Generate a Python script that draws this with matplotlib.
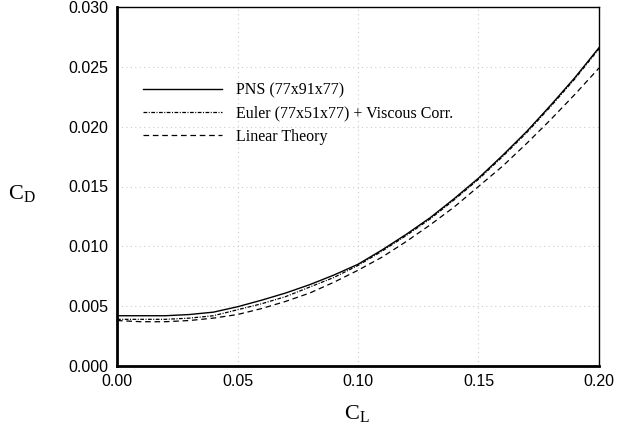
import matplotlib.pyplot as plt
import numpy as np

cl = [0.00, 0.01, 0.02, 0.03, 0.04, 0.05, 0.06, 0.07, 0.08, 0.09, 0.10,
      0.11, 0.12, 0.13, 0.14, 0.15, 0.16, 0.17, 0.18, 0.19, 0.20]
cd_pns = [0.0042, 0.0042, 0.0042, 0.0043, 0.0045, 0.00495, 0.0055, 0.0061, 0.0068, 0.0076, 0.0085,
          0.0097, 0.0110, 0.0124, 0.0140, 0.0157, 0.0176, 0.0196, 0.0218, 0.0241, 0.0266]
cd_euler = [0.0039, 0.0039, 0.0039, 0.0040, 0.0042, 0.0047, 0.0052, 0.0058, 0.0066, 0.0074, 0.0084,
            0.0096, 0.0109, 0.0123, 0.0139, 0.0156, 0.0175, 0.0195, 0.0217, 0.0240, 0.0265]
cd_lin = [0.0038, 0.0037, 0.0037, 0.0038, 0.0040, 0.0043, 0.0048, 0.0054, 0.0061, 0.0070, 0.0080,
          0.0091, 0.0104, 0.0118, 0.0133, 0.0150, 0.0167, 0.0186, 0.0206, 0.0227, 0.0249]
labels = ["PNS (77x91x77)", "Euler (77x51x77) + Viscous Corr.", "Linear Theory"]

xticks = [0.00, 0.05, 0.10, 0.15, 0.20]
yticks = [0.000, 0.005, 0.010, 0.015, 0.020, 0.025, 0.030]

fig = plt.figure(figsize=(6.29, 4.34), dpi=100)
ax = fig.add_axes([117 / 629, 1 - 366 / 434, 482 / 629, 359 / 434])

ax.plot(cl, cd_pns, color="black", lw=1.0, ls="-", label=labels[0])
ax.plot(cl, cd_euler, color="black", lw=0.9, ls=(0, (3, 1.2, 0.8, 1.2)), label=labels[1])
ax.plot(cl, cd_lin, color="black", lw=0.9, ls=(0, (4.5, 3)), label=labels[2])

ax.set_xlim(0, 0.2)
ax.set_ylim(0, 0.03)
ax.set_xticks(xticks)
ax.set_yticks(yticks)
ax.set_xticklabels(["%.2f" % v for v in xticks], fontsize=11.5, family="Liberation Sans")
ax.set_yticklabels(["%.3f" % v for v in yticks], fontsize=11.5, family="Liberation Sans")
ax.tick_params(axis="x", length=0, pad=6)
ax.tick_params(axis="y", length=0, pad=6.5)
ax.grid(True, color="#cccccc", ls=(0, (1, 3)), lw=0.8)

for s in ["left", "bottom"]:
    ax.spines[s].set_linewidth(2.0)
for s in ["top", "right"]:
    ax.spines[s].set_linewidth(1.0)

leg = ax.legend(loc="upper left", bbox_to_anchor=(0.054, 0.79), frameon=False,
                handlelength=4.95, handletextpad=0.85, labelspacing=0.45,
                borderaxespad=0, borderpad=0,
                prop={"family": "Liberation Serif", "size": 11.5})

fig.text(22 / 629, 1 - 193 / 434, r"$\mathregular{C_D}$", fontsize=16,
         family="Liberation Serif", ha="center", va="center")
fig.text(357 / 629, 1 - 413 / 434, r"$\mathregular{C_L}$", fontsize=16,
         family="Liberation Serif", ha="center", va="center")

fig.savefig("out.png", dpi=100)
